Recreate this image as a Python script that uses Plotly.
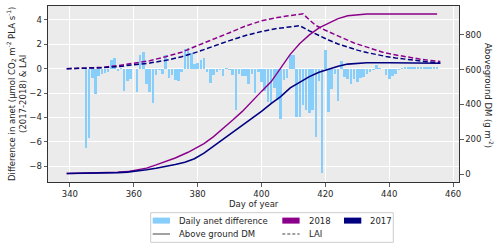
import plotly.graph_objects as go

# ---------------- data ----------------
bar_days = list(range(345, 456))
anet_diff = [-6.5, -5.7, -0.8, -2.1, -0.6, -0.45, -0.35, -0.3, 0.7, 0.9,
             -0.2, 0.05, -1.85, -1.0, -0.85, 0.0, -1.95, 1.1, 1.4, -1.25,
             -1.95, -2.8, -0.55, -0.1, -0.45, 1.1, -0.75, -0.55, -0.9, -1.0,
             -0.25, 1.6, 1.7, 1.3, 0.4, 0.45, 0.75, 0.85, -0.25, -1.2,
             -0.55, -0.3, -0.1, -0.6, 0.05, -0.1, -0.55, -3.4, -0.45, -0.6,
             -0.6, -1.3, -0.45, -2.0, -0.3, -1.1, -1.8, -2.7, -2.8, -1.6,
             -2.6, -4.1, -0.9, -0.8, 1.15, 1.1, -4.0, -4.0, -3.0, -3.4,
             -3.6, -3.4, -5.6, -1.0, -8.6, 1.5, -3.55, -1.7, -0.4, -2.65,
             0.65, -0.68, -0.87, -1.23, -0.82, -1.1, -0.77, -0.68, -0.4, -0.27,
             -0.14, 0.27, 0.08, 0.0, -0.55, -0.82, -0.63, -0.41, -0.14, 0.08,
             0.14, 0.14, 0.15, 0.14, 0.15, 0.14, 0.15, 0.14, 0.13, 0.15, 0.14]

lai_days_2018 = [339, 345, 350, 355, 360, 365, 370, 375, 380, 385, 390, 395, 400, 405, 410, 413,
                 415, 417, 420, 423, 426, 429, 432, 435, 438, 441, 444, 447, 450, 453, 456]
lai_2018 = [0.0, 0.03, 0.1, 0.25, 0.42, 0.65, 0.98, 1.35, 1.9, 2.4, 2.95, 3.5, 3.92, 4.2, 4.4, 4.5,
            4.0, 3.55, 3.15, 2.8, 2.45, 2.1, 1.85, 1.58, 1.35, 1.17, 1.02, 0.88, 0.77, 0.67, 0.58]

lai_days_2017 = [339, 345, 350, 355, 360, 365, 370, 375, 380, 385, 390, 395, 400, 405, 410, 412,
                 415, 418, 421, 424, 427, 430, 433, 436, 439, 442, 445, 448, 451, 454, 456]
lai_2017 = [0.0, 0.02, 0.07, 0.17, 0.3, 0.46, 0.68, 0.97, 1.38, 1.85, 2.3, 2.72, 3.05, 3.3, 3.47, 3.52,
            3.1, 2.7, 2.35, 2.02, 1.75, 1.52, 1.32, 1.15, 1.0, 0.88, 0.77, 0.67, 0.59, 0.51, 0.46]

dm_days_2018 = [339, 345, 350, 355, 358, 361, 364, 367, 370, 373, 377, 382, 385, 388, 391, 394, 397,
                400, 403, 406, 409, 412, 415, 418, 421, 424, 427, 430, 433, 440, 445, 450, 455]
dm_2018 = [3, 4, 6, 10, 14, 22, 34, 52, 72, 92, 125, 175, 215, 260, 310, 360, 420,
           475, 530, 612, 688, 750, 800, 840, 866, 893, 910, 917, 920, 920, 920, 920, 920]

dm_days_2017 = [339, 345, 350, 355, 358, 361, 364, 367, 370, 373, 376, 379, 382, 385, 388, 391, 394,
                397, 400, 403, 406, 409, 412, 415, 418, 421, 424, 427, 430, 433, 440, 445, 450, 456]
dm_2017 = [3, 4, 5, 8, 11, 16, 24, 33, 43, 55, 68, 88, 120, 160, 200, 238, 275,
           320, 360, 405, 445, 495, 530, 560, 585, 602, 620, 632, 637, 640, 640, 640, 638, 637]

x_ticks = [340, 360, 380, 400, 420, 440, 460]
y_ticks = [-8, -6, -4, -2, 0, 2, 4]
y2_ticks = [0, 200, 400, 600, 800]

C_BAR = "#87CEFA"
C_2018 = "#8B008B"
C_2017 = "#000080"
FONT = "DejaVu Sans"
FS = 8.5
TXT = "#262626"

fig = go.Figure()
fig.add_trace(go.Bar(x=bar_days, y=anet_diff, width=0.8, marker=dict(color=C_BAR, line=dict(width=0)),
                     showlegend=False, yaxis="y"))
fig.add_trace(go.Scatter(x=lai_days_2018, y=lai_2018, mode="lines", yaxis="y", showlegend=False,
                         line=dict(color=C_2018, width=1.5, dash="5px,2.5px")))
fig.add_trace(go.Scatter(x=lai_days_2017, y=lai_2017, mode="lines", yaxis="y", showlegend=False,
                         line=dict(color=C_2017, width=1.5, dash="5px,2.5px")))
fig.add_trace(go.Scatter(x=dm_days_2018, y=dm_2018, mode="lines", yaxis="y2", showlegend=False,
                         line=dict(color=C_2018, width=1.4)))
fig.add_trace(go.Scatter(x=dm_days_2017, y=dm_2017, mode="lines", yaxis="y2", showlegend=False,
                         line=dict(color=C_2017, width=1.6)))

L, R, T, B = 48, 459, 6, 182
W, H = 500, 249


def px(x):
    return (x - L) / (R - L)


def py(y):
    return (B - y) / (B - T)


axis_common = dict(showline=True, linecolor="#333333", linewidth=1, ticks="outside", ticklen=3.5,
                   tickwidth=0.8, tickcolor="#333333", tickfont=dict(family=FONT, size=FS, color=TXT),
                   zeroline=False)

fig.update_layout(
    width=W, height=H, margin=dict(l=L, r=W - R, t=T, b=H - B),
    paper_bgcolor="white", plot_bgcolor="#EBEBEB",
    font=dict(family=FONT, size=FS, color=TXT),
    showlegend=False, bargap=0, hovermode=False,
    xaxis=dict(range=[333.15, 461.85], tickvals=x_ticks, showgrid=True, gridcolor="white", gridwidth=1,
               mirror=True, **axis_common),
    yaxis=dict(range=[-9.3, 5.14], tickvals=y_ticks, showgrid=True, gridcolor="white", gridwidth=1,
               mirror=True, **axis_common),
    yaxis2=dict(range=[-46, 966], tickvals=y2_ticks, overlaying="y", side="right", showgrid=False,
                **axis_common),
)

annotations = [
    dict(text="Day of year", x=px(253.5), y=py(203.5), xref="paper", yref="paper", showarrow=False,
         xanchor="center", yanchor="middle", font=dict(family=FONT, size=FS, color=TXT)),
    dict(text="Difference in anet (μmol CO<sub>2</sub> m<sup>-2</sup> PLA s<sup>-1</sup>)<br>(2017-2018) & LAI",
         x=px(16), y=py(94), xref="paper", yref="paper", showarrow=False, textangle=-90,
         xanchor="center", yanchor="middle", font=dict(family=FONT, size=FS, color=TXT)),
    dict(text="Aboveground DM (g m<sup>-2</sup>)", x=px(489), y=py(96), xref="paper", yref="paper",
         showarrow=False, textangle=90, xanchor="center", yanchor="middle",
         font=dict(family=FONT, size=FS, color=TXT)),
]

shapes = [
    dict(type="rect", xref="paper", yref="paper", x0=px(150.7), x1=px(393.3), y0=py(242.3), y1=py(212.7),
         line=dict(color="#CCCCCC", width=1), fillcolor="white", layer="above"),
]

row1, row2 = 220.6, 234.0
patches = [(152.7, C_BAR, "Daily anet difference"), (282.3, C_2018, "2018"), (344.0, C_2017, "2017")]
for x0, col, label in patches:
    shapes.append(dict(type="rect", xref="paper", yref="paper", x0=px(x0), x1=px(x0 + 17.3),
                       y0=py(row1 + 3), y1=py(row1 - 3), line=dict(width=0), fillcolor=col, layer="above"))
    annotations.append(dict(text=label, x=px(x0 + 24.3), y=py(row1), xref="paper", yref="paper",
                            showarrow=False, xanchor="left", yanchor="middle",
                            font=dict(family=FONT, size=FS, color=TXT)))

lines = [(152.7, "solid", "Above ground DM"), (282.3, "3px,2px", "LAI")]
for x0, dash, label in lines:
    shapes.append(dict(type="line", xref="paper", yref="paper", x0=px(x0), x1=px(x0 + 17.3),
                       y0=py(row2), y1=py(row2), line=dict(color="#444444", width=1, dash=dash),
                       layer="above"))
    annotations.append(dict(text=label, x=px(x0 + 24.3), y=py(row2), xref="paper", yref="paper",
                            showarrow=False, xanchor="left", yanchor="middle",
                            font=dict(family=FONT, size=FS, color=TXT)))

fig.update_layout(annotations=annotations, shapes=shapes)
fig.write_html("out.html", config={"displayModeBar": False, "staticPlot": True},
               post_script="document.body.style.margin='0';document.body.style.overflow='hidden';")
